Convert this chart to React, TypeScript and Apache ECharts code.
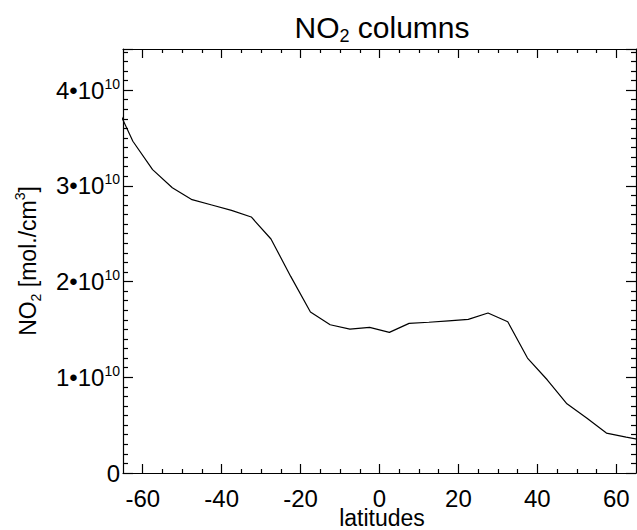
import React, { useEffect, useRef } from "react";
import * as echarts from "echarts";

const FONT = "'Liberation Sans', Arial, Helvetica, sans-serif";

const latitudes = [
  -67.5, -62.5, -57.5, -52.5, -47.5, -42.5, -37.5, -32.5, -27.5, -22.5, -17.5, -12.5, -7.5, -2.5,
  2.5, 7.5, 12.5, 17.5, 22.5, 27.5, 32.5, 37.5, 42.5, 47.5, 52.5, 57.5, 62.5, 67.5,
];
const no2Columns = [
  3.91e10, 3.466e10, 3.17e10, 2.98e10, 2.856e10, 2.8e10, 2.744e10, 2.675e10, 2.445e10, 2.054e10,
  1.682e10, 1.549e10, 1.504e10, 1.521e10, 1.469e10, 1.563e10, 1.575e10, 1.59e10, 1.605e10,
  1.672e10, 1.581e10, 1.201e10, 0.974e10, 0.723e10, 0.574e10, 0.417e10, 0.375e10, 0.335e10,
];
const majorLatTicks = [-60, -40, -20, 0, 20, 40, 60];
const minorLatTicks = [
  -55, -50, -45, -35, -30, -25, -15, -10, -5, 5, 10, 15, 25, 30, 35, 45, 50, 55,
];
const latRange = [-65, 65];
const yMax = 4.43e10;
const yInterval = 1e10;

export default function App() {
  const ref = useRef<HTMLDivElement>(null);
  useEffect(() => {
    if (!ref.current) return;
    const chart = echarts.init(ref.current, null, { renderer: "svg" });
    const black = "#000";
    const axisLine = (show: boolean) => ({
      show,
      onZero: false,
      lineStyle: { color: black, width: 1.2 },
    });
    const xTicks = (pos: "top" | "bottom", major: boolean, showLine: boolean): any => ({
      type: "value",
      position: pos,
      min: latRange[0],
      max: latRange[1],
      axisLine: axisLine(showLine),
      axisTick: {
        show: true,
        inside: true,
        length: major ? 9 : 4,
        customValues: major ? majorLatTicks : minorLatTicks,
        lineStyle: { color: black, width: 1.2 },
      },
      axisLabel: { show: false },
      splitLine: { show: false },
    });
    const yTicks = (pos: "left" | "right", showLine: boolean): any => ({
      type: "value",
      position: pos,
      min: 0,
      max: yMax,
      interval: yInterval,
      axisLine: axisLine(showLine),
      axisTick: { show: true, inside: true, length: 10, lineStyle: { color: black, width: 1.2 } },
      minorTick: { show: true, splitNumber: 10, length: 5, lineStyle: { color: black, width: 1.2 } },
      splitLine: { show: false },
      minorSplitLine: { show: false },
      axisLabel: { show: false },
    });
    chart.setOption({
      animation: false,
      backgroundColor: "#fff",
      title: {
        text: "NO{sub|2} columns",
        left: 382,
        top: 9,
        padding: 0,
        textAlign: "center",
        textStyle: {
          fontSize: 30,
          fontWeight: "normal",
          color: black,
          fontFamily: FONT,
          lineHeight: 36,
          rich: {
            sub: { fontSize: 18, color: black, fontFamily: FONT, lineHeight: 16, verticalAlign: "bottom" },
          },
        },
      },
      grid: {
        left: 123,
        top: 49,
        width: 513,
        height: 424,
        containLabel: false,
      },
      xAxis: [
        {
          type: "value",
          position: "bottom",
          min: latRange[0],
          max: latRange[1],
          axisLine: axisLine(true),
          axisTick: { show: false },
          splitLine: { show: false },
          axisLabel: {
            show: true,
            customValues: majorLatTicks,
            fontSize: 24,
            color: black,
            fontFamily: FONT,
            margin: 13,
          },
        },
        xTicks("bottom", true, false),
        xTicks("bottom", false, false),
        xTicks("top", true, true),
        xTicks("top", false, false),
      ],
      yAxis: [
        {
          type: "value",
          position: "left",
          min: 0,
          max: yMax,
          interval: yInterval,
          axisLine: axisLine(true),
          axisTick: { show: false },
          splitLine: { show: false },
          axisLabel: {
            show: true,
            margin: 3,
            showMaxLabel: false,
            formatter: (v: number) =>
              v === 0 ? "{b|0}" : `{b|${Math.round(v / 1e10)}•10}{sup|10}`,
            rich: {
              b: { fontSize: 24, color: black, fontFamily: FONT, lineHeight: 27 },
              sup: { fontSize: 14, color: black, fontFamily: FONT, lineHeight: 14, verticalAlign: "top" },
            },
          },
          name: "NO{sub|2} [mol./cm{sup|3}]",
          nameLocation: "middle",
          nameGap: 80,
          nameTextStyle: {
            fontSize: 23,
            color: black,
            fontFamily: FONT,
            lineHeight: 30,
            rich: {
              sub: { fontSize: 14, color: black, fontFamily: FONT, lineHeight: 14, verticalAlign: "bottom" },
              sup: { fontSize: 14, color: black, fontFamily: FONT, lineHeight: 14, verticalAlign: "top" },
            },
          },
        },
        yTicks("left", false),
        yTicks("right", true),
      ],
      graphic: [
        {
          type: "text",
          x: 382,
          y: 529,
          silent: true,
          style: {
            text: "latitudes",
            fontSize: 23,
            lineHeight: 22,
            fontFamily: FONT,
            fill: black,
            align: "center",
            verticalAlign: "bottom",
          },
        },
      ],
      series: [
        {
          type: "line",
          xAxisIndex: 0,
          yAxisIndex: 0,
          data: latitudes.map((lat, i) => [lat, no2Columns[i]]),
          showSymbol: false,
          symbol: "none",
          clip: true,
          lineStyle: { color: black, width: 1.2 },
        },
      ],
    });
    return () => chart.dispose();
  }, []);
  return (
    <div
      ref={ref}
      style={{ position: "absolute", left: 0, top: 0, width: 637, height: 530 }}
    />
  );
}
